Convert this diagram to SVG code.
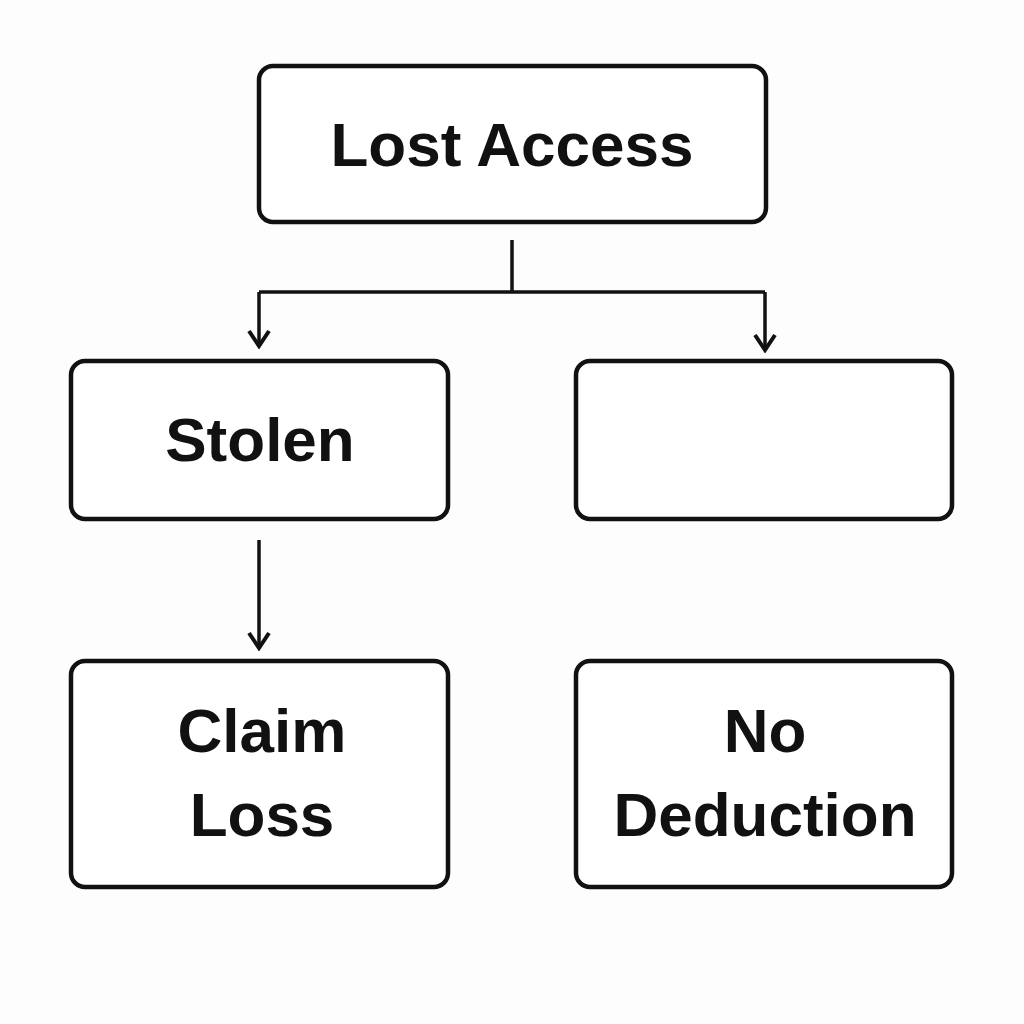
<svg xmlns="http://www.w3.org/2000/svg" width="1024" height="1024" viewBox="0 0 1024 1024">
<style>
.box{fill:#fff;stroke:#111;stroke-width:4.5}
.lbl{font-family:"Liberation Sans",Arial,sans-serif;font-weight:bold;font-size:62px;fill:#111;text-anchor:middle}
.conn{fill:none;stroke:#111;stroke-width:3.5}
</style>
<defs>
<marker id="arr" viewBox="0 0 24 24" refX="21" refY="12" markerWidth="24" markerHeight="24" markerUnits="userSpaceOnUse" orient="auto">
<path d="M6,2 L21,12 L6,22" fill="none" stroke="#111" stroke-width="4"/>
</marker>
</defs>
<rect width="1024" height="1024" fill="#fdfdfd"/>
<g id="connectors">
<path class="conn" d="M512,240 V292"/>
<path class="conn" d="M259,292 H765"/>
<path class="conn" d="M259,292 V346" marker-end="url(#arr)"/>
<path class="conn" d="M765,292 V350" marker-end="url(#arr)"/>
<path class="conn" d="M259,540 V648" marker-end="url(#arr)"/>
</g>
<g id="lost-access">
<rect class="box" x="259" y="66" width="507" height="156" rx="14"/>
<text class="lbl" x="512" y="166">Lost Access</text>
</g>
<g id="stolen">
<rect class="box" x="71" y="361" width="377" height="158" rx="14"/>
<text class="lbl" x="260" y="461">Stolen</text>
</g>
<g id="empty">
<rect class="box" x="576" y="361" width="376" height="158" rx="14"/>
</g>
<g id="claim-loss">
<rect class="box" x="71" y="661" width="377" height="226" rx="14"/>
<text class="lbl" x="262" y="752">Claim</text>
<text class="lbl" x="262" y="836">Loss</text>
</g>
<g id="no-deduction">
<rect class="box" x="576" y="661" width="376" height="226" rx="14"/>
<text class="lbl" x="765" y="752">No</text>
<text class="lbl" x="765" y="836">Deduction</text>
</g>
</svg>
